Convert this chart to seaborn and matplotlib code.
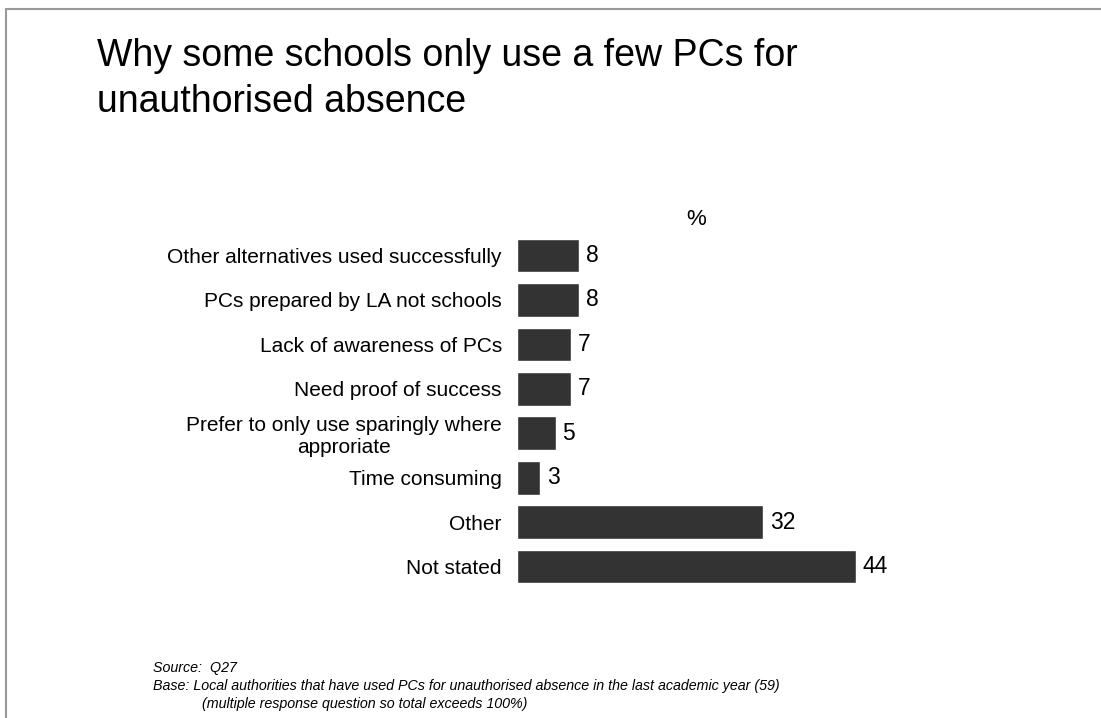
import numpy as np
import pandas as pd
import matplotlib
matplotlib.use("Agg")
import matplotlib.pyplot as plt
import seaborn as sns

# reasons and percentages
reasons = ['Other alternatives used successfully',
           'PCs prepared by LA not schools',
           'Lack of awareness of PCs',
           'Need proof of success',
           'Prefer to only use sparingly where\napproriate',
           'Time consuming',
           'Other',
           'Not stated']
percent = [8, 8, 7, 7, 5, 3, 32, 44]

df = pd.DataFrame({'Reason': reasons, 'Percent': percent})

sns.set_style("white")
plt.rcParams['font.family'] = ['Liberation Sans', 'DejaVu Sans']
plt.rcParams['text.color'] = 'black'
plt.rcParams['ytick.color'] = 'black'

fig = plt.figure(figsize=(11.01, 7.18), dpi=100)
ax = fig.add_axes([0.4696, 0.180, 0.4196, 0.495])

sns.barplot(data=df, x='Percent', y='Reason', color='#333333', width=0.76,
            saturation=1, ax=ax)
ax.bar_label(ax.containers[0], labels=[str(v) for v in percent],
             fontsize=16.5, padding=5)
ax.set_xlim(0, 60)
ax.set_ylim(7.5, -0.5)
ax.set_xlabel('')
ax.set_ylabel('')
ax.set_xticks([])
ax.tick_params(axis='y', length=0, pad=11, labelsize=15)
for lbl in ax.get_yticklabels():
    lbl.set_multialignment('center')
sns.despine(ax=ax, left=True, bottom=True)

# % marker above the bars
ax.text(0.388, 1.04, '%', transform=ax.transAxes, fontsize=16, ha='center', va='center')

# title, two lines
fig.text(97 / 1101, 1 - 66 / 718, 'Why some schools only use a few PCs for',
         fontsize=27, ha='left', va='baseline')
fig.text(97 / 1101, 1 - 112 / 718, 'unauthorised absence',
         fontsize=27, ha='left', va='baseline')

fig.text(153 / 1101, 1 - 668 / 718, 'Source:  Q27', fontsize=10.3, style='italic', va='center')
fig.text(153 / 1101, 1 - 686 / 718,
         'Base: Local authorities that have used PCs for unauthorised absence in the last academic year (59)',
         fontsize=10.3, style='italic', va='center')
fig.text(202 / 1101, 1 - 704 / 718, '(multiple response question so total exceeds 100%)',
         fontsize=10.3, style='italic', va='center')

# frame lines (top and left)
fig.add_artist(plt.Line2D([6 / 1101, 1], [1 - 9 / 718, 1 - 9 / 718], color='#999999', lw=1.5))
fig.add_artist(plt.Line2D([6 / 1101, 6 / 1101], [0, 1 - 9 / 718], color='#999999', lw=1.5))

fig.savefig('out.png', dpi=100)
